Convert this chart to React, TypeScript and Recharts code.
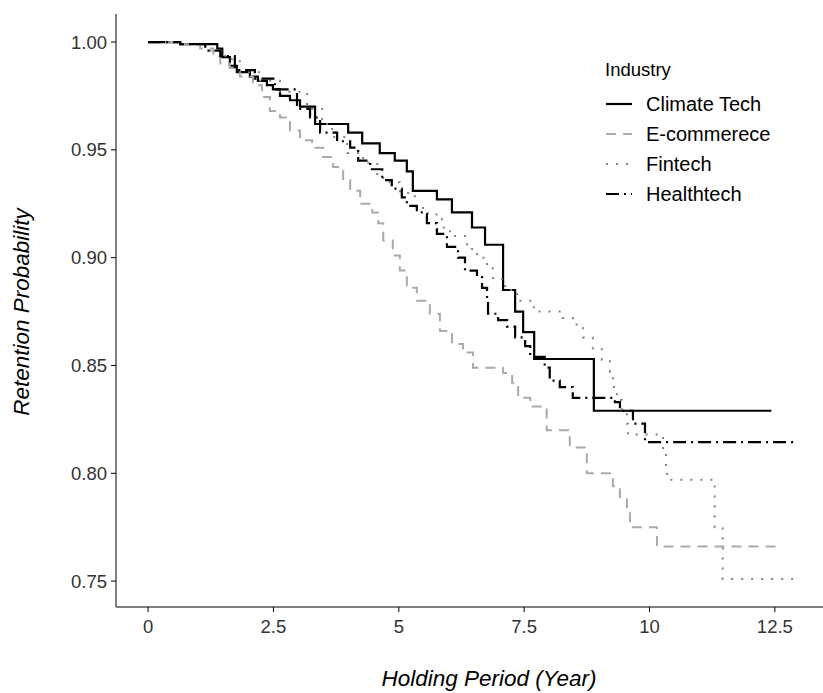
import { LineChart, Line, XAxis, YAxis } from "recharts";

const climateTechTime = [0, 0.64, 1.38, 1.48, 1.63, 1.77, 2.03, 2.19, 2.37, 2.49, 2.63, 2.83, 3.03, 3.33, 3.99, 4.27, 4.62, 4.92, 5.16, 5.28, 5.76, 6.06, 6.46, 6.72, 7.08, 7.32, 7.48, 7.7, 8.89, 12.43];
const climateTechSurv = [1.0, 0.999, 0.997, 0.993, 0.989, 0.986, 0.984, 0.982, 0.98, 0.978, 0.975, 0.973, 0.97, 0.962, 0.958, 0.953, 0.9485, 0.945, 0.94, 0.931, 0.927, 0.921, 0.914, 0.906, 0.885, 0.875, 0.8655, 0.853, 0.829, 0.829];

const ecommerceTime = [0, 0.54, 1.04, 1.3, 1.44, 1.63, 1.83, 2.09, 2.27, 2.43, 2.63, 2.83, 3.03, 3.27, 3.49, 3.69, 3.89, 4.03, 4.23, 4.47, 4.59, 4.69, 4.88, 5.02, 5.16, 5.36, 5.62, 5.82, 6.06, 6.28, 6.48, 7.08, 7.26, 7.38, 7.62, 7.95, 8.41, 8.75, 9.27, 9.41, 9.55, 9.61, 10.15, 12.52];
const ecommerceSurv = [1.0, 0.999, 0.997, 0.9935, 0.99, 0.988, 0.984, 0.98, 0.9745, 0.968, 0.965, 0.959, 0.9545, 0.951, 0.9467, 0.942, 0.936, 0.931, 0.925, 0.921, 0.916, 0.908, 0.901, 0.894, 0.886, 0.88, 0.874, 0.866, 0.86, 0.856, 0.849, 0.8465, 0.842, 0.835, 0.831, 0.82, 0.812, 0.8, 0.794, 0.788, 0.782, 0.775, 0.766, 0.766];

const fintechTime = [0, 0.74, 1.14, 1.54, 1.83, 2.23, 2.63, 3.17, 3.47, 3.67, 3.97, 4.29, 4.57, 4.82, 5.02, 5.32, 5.58, 5.86, 6.02, 6.36, 6.56, 6.76, 6.88, 7.12, 7.36, 7.66, 7.72, 8.27, 8.47, 8.67, 8.87, 9.05, 9.21, 9.27, 9.35, 9.45, 9.55, 9.57, 10.27, 10.33, 10.35, 11.3, 11.46, 12.88];
const fintechSurv = [1.0, 0.999, 0.996, 0.992, 0.986, 0.982, 0.977, 0.969, 0.962, 0.956, 0.9485, 0.944, 0.937, 0.935, 0.93, 0.923, 0.92, 0.914, 0.91, 0.904, 0.9, 0.895, 0.89, 0.885, 0.88, 0.877, 0.875, 0.872, 0.869, 0.863, 0.858, 0.8525, 0.847, 0.84, 0.834, 0.829, 0.823, 0.818, 0.81, 0.8015, 0.797, 0.775, 0.751, 0.751];

const healthtechTime = [0, 0.64, 1.14, 1.44, 1.73, 2.13, 2.53, 2.97, 3.23, 3.43, 3.77, 4.03, 4.19, 4.43, 4.67, 4.86, 5.06, 5.16, 5.36, 5.56, 5.76, 5.96, 6.18, 6.32, 6.56, 6.66, 6.76, 6.78, 6.98, 7.16, 7.32, 7.52, 7.62, 7.91, 8.01, 8.21, 8.47, 9.31, 9.41, 9.67, 9.91, 12.94];
const healthtechSurv = [1.0, 0.999, 0.996, 0.9935, 0.987, 0.983, 0.978, 0.969, 0.965, 0.958, 0.954, 0.951, 0.945, 0.941, 0.936, 0.932, 0.928, 0.924, 0.921, 0.916, 0.911, 0.905, 0.9, 0.894, 0.891, 0.886, 0.88, 0.874, 0.871, 0.868, 0.863, 0.859, 0.854, 0.849, 0.843, 0.84, 0.835, 0.833, 0.829, 0.823, 0.8145, 0.8145];

const industries = ["Climate Tech", "E-commerece", "Fintech", "Healthtech"];
const xTicks = [0, 2.5, 5, 7.5, 10, 12.5];
const yTicks = [0.75, 0.8, 0.85, 0.9, 0.95, 1.0];

const toRows = (t: number[], s: number[]) => t.map((x, i) => ({ x, y: s[i] }));

const series = [
  { name: industries[0], data: toRows(climateTechTime, climateTechSurv), color: "#000000", dash: undefined, width: 2.2 },
  { name: industries[1], data: toRows(ecommerceTime, ecommerceSurv), color: "#aaaaaa", dash: "10 7", width: 2 },
  { name: industries[2], data: toRows(fintechTime, fintechSurv), color: "#8c8072", dash: "2 8", width: 2 },
  { name: industries[3], data: toRows(healthtechTime, healthtechSurv), color: "#000000", dash: "13 5 2 5", width: 2.2 },
];

const font = "'Liberation Sans', Arial, sans-serif";
const titleStyle = { fill: "#000", fontSize: 22.5, fontStyle: "italic", fontFamily: font };

// legend drawn outside the chart so it doesn't eat plot space
function IndustryLegend() {
  return (
    <div style={{ position: "absolute", left: 605, top: 59, fontFamily: font, color: "#000" }}>
      <div style={{ fontSize: 18.5, height: 30 }}>Industry</div>
      {series.map((s) => (
        <div key={s.name} style={{ display: "flex", alignItems: "center", height: 30 }}>
          <svg width={28} height={10}>
            <line x1={1} y1={5} x2={27} y2={5} stroke={s.color} strokeWidth={s.width} strokeDasharray={s.dash} />
          </svg>
          <span style={{ fontSize: 20, marginLeft: 13 }}>{s.name}</span>
        </div>
      ))}
    </div>
  );
}

export default function App() {
  return (
    <div style={{ position: "absolute", left: 0, top: 0, width: 823, height: 693, background: "#fff" }}>
      <LineChart width={823} height={693} margin={{ top: 14, right: 0, bottom: 0, left: 0 }}>
        <XAxis
          type="number"
          dataKey="x"
          domain={[-0.64, 13.46]}
          ticks={xTicks}
          allowDataOverflow
          height={86}
          stroke="#000"
          tickSize={5}
          tick={{ fill: "#333", fontSize: 18.5, fontFamily: font, dy: 6 }}
          label={{
            content: () => (
              <text x={489} y={686} textAnchor="middle" {...titleStyle}>
                Holding Period (Year)
              </text>
            ),
          }}
        />
        <YAxis
          type="number"
          dataKey="y"
          domain={[0.738, 1.013]}
          ticks={yTicks}
          allowDataOverflow
          width={116}
          stroke="#000"
          tickSize={5}
          tickFormatter={(v: number) => v.toFixed(2)}
          tick={{ fill: "#333", fontSize: 18.5, fontFamily: font, dx: -2 }}
          label={{
            content: () => (
              <text x={29} y={312} textAnchor="middle" transform="rotate(-90 29 312)" {...titleStyle}>
                Retention Probability
              </text>
            ),
          }}
        />
        {series.map((s) => (
          <Line
            key={s.name}
            data={s.data}
            dataKey="y"
            name={s.name}
            type="stepAfter"
            stroke={s.color}
            strokeWidth={s.width}
            strokeDasharray={s.dash}
            dot={false}
            activeDot={false}
            isAnimationActive={false}
          />
        ))}
      </LineChart>
      <IndustryLegend />
    </div>
  );
}
